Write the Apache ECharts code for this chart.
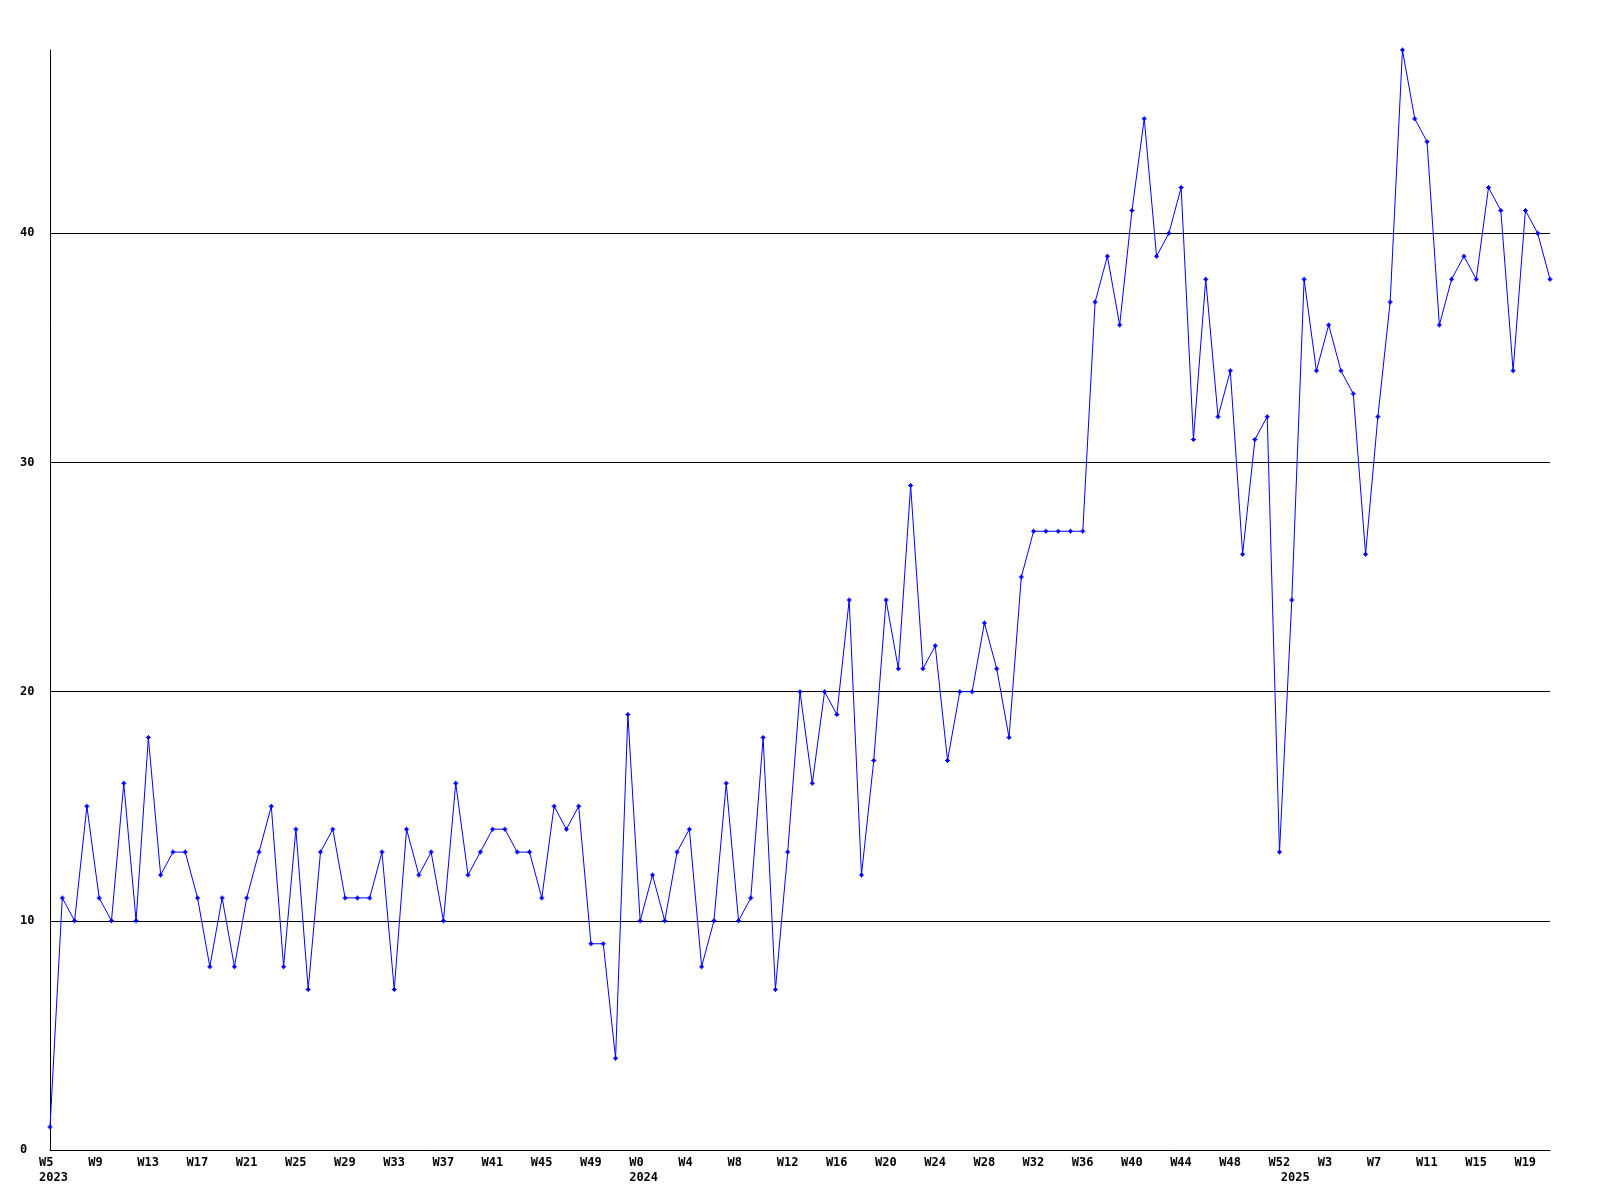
<!DOCTYPE html>
<html>
<head>
<meta charset="utf-8">
<script src="https://cdn.jsdelivr.net/npm/echarts@6/dist/echarts.min.js"></script>
<style>
html,body{margin:0;padding:0;background:#fff;}
#chart{width:1600px;height:1200px;}
</style>
</head>
<body>
<div id="chart"></div>
<script>
// Years and the first week number shown for each year
const years = ['2023', '2024', '2025'];
const firstWeeks = [5, 0, 0];

// Weekly values per year
const values2023 = [1,11,10,15,11,10,16,10,18,12,13,13,11,8,11,8,11,13,15,8,14,7,13,14,11,11,11,13,7,14,12,13,10,16,12,13,14,14,13,13,11,15,14,15,9,9,4,19];
const values2024 = [10,12,10,13,14,8,10,16,10,11,18,7,13,20,16,20,19,24,12,17,24,21,29,21,22,17,20,20,23,21,18,25,27,27,27,27,27,37,39,36,41,45,39,40,42,31,38,32,34,26,31,32,13];
const values2025 = [24,38,34,36,34,33,26,32,37,48,45,44,36,38,39,38,42,41,34,41,40,38];

// Y axis tick labels
const yTicks = [0, 10, 20, 30, 40];
const yMax = 48;

const yearValues = [values2023, values2024, values2025];
const categories = [];
const weekLabels = [];
const yearStartIdx = {};
const values = [];
yearValues.forEach((arr, y) => {
  yearStartIdx[categories.length] = years[y];
  arr.forEach((v, i) => {
    const wk = firstWeeks[y] + i;
    categories.push(years[y] + '-W' + wk);
    weekLabels.push('W' + wk);
    values.push(v);
  });
});

const shown = new Set();
for (let i = 0; i < categories.length; i++) {
  if (i % 4 === 0 || yearStartIdx[i] !== undefined) shown.add(i);
}

const FONT = '"DejaVu Sans Mono", "Liberation Mono", monospace';

const chart = echarts.init(document.getElementById('chart'), null, {renderer: 'canvas'});
chart.setOption({
  animation: false,
  backgroundColor: '#ffffff',
  grid: {left: 50, right: 50, top: 50, bottom: 50, containLabel: false},
  xAxis: {
    type: 'category',
    boundaryGap: false,
    data: categories,
    axisLine: {show: true, lineStyle: {color: '#000', width: 1}},
    axisTick: {show: false},
    splitLine: {show: false},
    axisLabel: {
      interval: (idx) => shown.has(idx),
      formatter: (val, idx) => {
        const top = (idx % 4 === 0) ? weekLabels[idx] : ' ';
        const yr = yearStartIdx[idx];
        return yr !== undefined ? top + '\n' + yr : top;
      },
      align: 'left',
      verticalAlign: 'top',
      padding: [0, 0, 0, -11],
      margin: 5,
      lineHeight: 15,
      fontFamily: FONT,
      fontWeight: 'bold',
      fontSize: 12,
      color: '#000'
    }
  },
  yAxis: {
    type: 'value',
    min: 0,
    max: yMax,
    interval: 10,
    axisLine: {show: true, lineStyle: {color: '#000', width: 1}},
    axisTick: {show: false},
    splitLine: {show: true, showMinLine: false, showMaxLine: false, lineStyle: {color: '#000', width: 1}},
    axisLabel: {
      showMaxLabel: false,
      formatter: (v) => yTicks.indexOf(v) >= 0 ? String(v) : '',
      align: 'left',
      margin: 30,
      fontFamily: FONT,
      fontWeight: 'bold',
      fontSize: 12,
      color: '#000'
    }
  },
  series: [{
    type: 'line',
    data: values,
    showAllSymbol: true,
    symbol: 'path://M2,0H3V1H4V2H5V3H4V4H3V5H2V4H1V3H0V2H1V1H2Z',
    symbolSize: 5,
    lineStyle: {color: '#0000ff', width: 1},
    itemStyle: {color: '#0000ff'},
    clip: true
  }]
});
</script>
</body>
</html>
